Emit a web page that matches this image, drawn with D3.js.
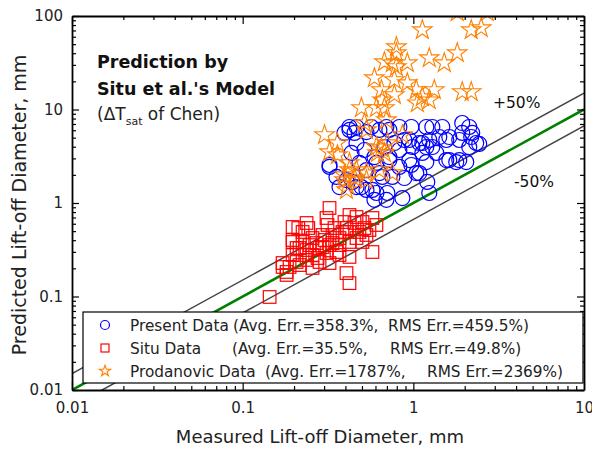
<!DOCTYPE html>
<html>
<head>
<meta charset="utf-8">
<script src="https://cdn.jsdelivr.net/npm/d3@7"></script>
<style>
  body { margin: 0; background: #fff; }
  text { font-family: "DejaVu Sans", Verdana, sans-serif; }
</style>
</head>
<body>
<svg id="chart" width="592" height="450"></svg>
<script>
//--data--//
var presentData = [
  [0.4225, 6.50], [0.4645, 6.50], [0.5682, 6.50], [0.6952, 6.50], [0.8284, 6.50], [0.9734, 6.50],
  [1.191, 6.50], [1.292, 6.50], [1.478, 6.50], [1.934, 7.17], [2.126, 6.50], [0.3950, 5.61],
  [0.4520, 5.61], [0.5312, 5.74], [0.7237, 6.04], [0.6327, 6.04], [0.4225, 6.04], [2.213, 5.61],
  [2.336, 4.38], [0.8860, 4.72], [0.9476, 4.72], [0.9867, 3.97], [1.084, 4.38], [1.129, 4.38],
  [1.191, 3.97], [1.240, 4.72], [1.292, 3.97], [1.419, 5.08], [1.560, 4.72], [1.624, 5.08],
  [1.858, 4.72], [1.934, 5.61], [2.184, 5.08], [2.126, 3.97], [2.432, 4.28], [0.3228, 2.55],
  [0.4341, 3.43], [0.4834, 2.68], [0.6078, 2.68], [0.7237, 3.10], [0.8284, 3.69], [0.9734, 2.55],
  [1.191, 2.74], [1.560, 2.88], [1.784, 2.74], [2.042, 2.74], [0.7237, 2.88], [0.9476, 2.88],
  [1.129, 3.43], [1.624, 2.88], [1.858, 2.88], [0.3545, 1.90], [0.4400, 1.68], [0.4966, 1.48],
  [0.5759, 1.38], [0.6588, 1.90], [0.7538, 1.90], [1.041, 2.09], [1.207, 1.68], [0.4058, 1.76],
  [0.5312, 2.25], [0.6327, 2.09], [1.084, 2.09], [0.3693, 1.48], [0.4645, 1.48], [0.3228, 2.43],
  [0.5916, 1.08], [0.7047, 1.28], [0.8625, 1.13], [1.240, 1.28], [0.5312, 1.38], [0.6078, 1.28],
  [0.6952, 1.08], [0.7745, 4.38], [0.6767, 3.97], [0.5171, 3.69], [0.8284, 2.43], [0.8860, 1.85],
  [1.363, 3.43], [0.4645, 4.38], [0.5916, 3.10]
];

var situData = [
  [0.1439, 0.0988], [0.3228, 0.884], [0.2368, 0.611], [0.2423, 0.540], [0.1961, 0.554], [0.3099, 0.691],
  [0.3141, 0.582], [0.4225, 0.744], [0.4645, 0.708], [0.4520, 0.611], [0.5034, 0.626], [0.5759, 0.691],
  [0.6078, 0.582], [0.1961, 0.383], [0.2244, 0.383], [0.2567, 0.422], [0.2937, 0.455], [0.3360, 0.455],
  [0.3844, 0.490], [0.4225, 0.490], [0.4834, 0.490], [0.5312, 0.455], [0.2070, 0.330], [0.2368, 0.314],
  [0.2821, 0.330], [0.3228, 0.355], [0.3693, 0.355], [0.4225, 0.383], [0.4645, 0.422], [0.5034, 0.383],
  [0.1961, 0.278], [0.2244, 0.278], [0.2567, 0.278], [0.3099, 0.292], [0.3545, 0.299], [0.4225, 0.265],
  [0.5759, 0.299], [0.1714, 0.228], [0.1809, 0.170], [0.2154, 0.217], [0.2567, 0.202], [0.3228, 0.228],
  [0.4058, 0.178], [0.4225, 0.139], [0.1883, 0.207], [0.2118, 0.540], [0.1961, 0.402], [0.1809, 0.183],
  [0.2244, 0.490], [0.2708, 0.373], [0.2937, 0.338], [0.3360, 0.373], [0.3693, 0.422], [0.4058, 0.540],
  [0.2154, 0.330], [0.2465, 0.355], [0.2745, 0.258], [0.3017, 0.402], [0.3451, 0.540], [0.3950, 0.626],
  [0.5171, 0.540], [0.5531, 0.514], [0.3693, 0.278], [0.2821, 0.234], [0.2368, 0.246], [0.2070, 0.234],
  [0.1714, 0.207]
];

var prodanovicData = [
  [1.808, 110], [2.709, 110], [2.184, 70.8], [2.498, 74.4], [1.129, 70.8], [0.7956, 46.6],
  [0.7956, 40.2], [0.6767, 32.2], [0.7538, 31.4], [0.9224, 31.4], [0.7956, 28.5], [1.240, 35.5],
  [1.518, 31.4], [1.808, 40.2], [0.5916, 21.7], [0.7745, 20.7], [0.9224, 19.2], [0.6500, 16.2],
  [0.7745, 14.3], [1.041, 16.2], [1.129, 13.6], [1.327, 16.2], [1.240, 12.6], [1.055, 11.7],
  [1.934, 15.4], [2.184, 15.4], [0.6588, 12.6], [0.4966, 10.4], [0.6078, 10.4], [0.6767, 10.4],
  [0.3017, 5.34], [0.3593, 4.38], [0.3228, 3.51], [0.5171, 7.17], [0.5312, 6.04], [0.6952, 7.72],
  [0.8625, 5.34], [0.6160, 3.43], [0.6767, 3.43], [0.6500, 3.87], [0.7047, 4.38], [0.4225, 2.68],
  [0.4645, 2.25], [0.3950, 1.99], [0.5312, 2.09], [0.4111, 1.56], [0.7538, 2.09], [0.6327, 2.25],
  [0.6078, 3.97], [0.4225, 2.25], [0.3950, 1.76], [0.4520, 1.85], [0.4058, 1.38], [0.5312, 1.76],
  [0.3593, 3.26]
];

var xMajor = [0.01, 0.1, 1, 10];
var yMajor = [0.01, 0.1, 1, 10, 100];
var bandFactors = [1.5, 1 / 1.5];   // +50% / -50% lines

var legendRows = [
  ["Present Data", "(Avg. Err.=358.3%,", "RMS Err.=459.5%)"],
  ["Situ Data", "(Avg. Err.=35.5%,", "RMS Err.=49.8%)"],
  ["Prodanovic Data", "(Avg. Err.=1787%,", "RMS Err.=2369%)"]
];
//--data--//

function drawChart() {
  var svg = d3.select("#chart");
  var pLeft = 72, pRight = 584, pTop = 16, pBottom = 390;

  var x = d3.scaleLog().domain([0.01, 10]).range([pLeft, pRight]);
  var y = d3.scaleLog().domain([0.01, 100]).range([pBottom, pTop]);

  var isPow = d => Math.abs(Math.log10(d) - Math.round(Math.log10(d))) < 1e-9;
  var xMinor = x.ticks().filter(d => !isPow(d));
  var yMinor = y.ticks().filter(d => !isPow(d));
  var fmt = d3.format("~g");

  svg.append("defs").append("clipPath").attr("id", "plot")
    .append("rect").attr("x", pLeft).attr("y", pTop)
    .attr("width", pRight - pLeft).attr("height", pBottom - pTop);

  var plot = svg.append("g").attr("clip-path", "url(#plot)");

  //--reference lines--//
  var line = k => d3.line()
    .x(d => x(d))
    .y(d => y(d * k));

  bandFactors.forEach(k => {
    plot.append("path")
      .datum(x.domain())
      .attr("d", line(k))
      .attr("fill", "none")
      .attr("stroke", "#444")
      .attr("stroke-width", 1.5);
  });
  plot.append("path")
    .datum(x.domain())
    .attr("d", line(1))
    .attr("fill", "none")
    .attr("stroke", "#008000")
    .attr("stroke-width", 2.6);

  //--points--//
  plot.append("g").selectAll("circle")
    .data(presentData).enter().append("circle")
    .attr("cx", d => x(d[0])).attr("cy", d => y(d[1]))
    .attr("r", 7.5)
    .attr("fill", "none").attr("stroke", "#0000ff").attr("stroke-width", 1.2);

  plot.append("g").selectAll("rect")
    .data(situData).enter().append("rect")
    .attr("x", d => x(d[0]) - 6.3).attr("y", d => y(d[1]) - 6.3)
    .attr("width", 12.6).attr("height", 12.6)
    .attr("fill", "none").attr("stroke", "#ff0000").attr("stroke-width", 1.2);

  var star = d3.symbol().type(d3.symbolStar).size(118);
  plot.append("g").selectAll("path")
    .data(prodanovicData).enter().append("path")
    .attr("d", star)
    .attr("transform", d => `translate(${x(d[0])},${y(d[1])})`)
    .attr("fill", "none").attr("stroke", "#ff8000").attr("stroke-width", 1.1);

  //--axes--//
  function styleAxis(g) {
    g.selectAll("path.domain").attr("stroke", "#000").attr("stroke-width", 1.8);
    g.selectAll(".tick line").attr("stroke", "#000").attr("stroke-width", 1.2);
    g.selectAll("text").attr("font-size", 15).attr("fill", "#222")
      .attr("font-family", "DejaVu Sans, Verdana, sans-serif");
  }

  svg.append("g").attr("transform", `translate(0,${pBottom})`)
    .call(d3.axisBottom(x).tickValues(xMinor).tickSize(-4).tickFormat(""))
    .call(g => g.select(".domain").remove())
    .call(styleAxis);
  svg.append("g").attr("transform", `translate(0,${pBottom})`)
    .call(d3.axisBottom(x).tickValues(xMajor).tickSize(-8).tickSizeOuter(0).tickPadding(12).tickFormat(fmt))
    .call(styleAxis);

  svg.append("g").attr("transform", `translate(0,${pTop})`)
    .call(d3.axisTop(x).tickValues(xMinor).tickSize(-4).tickFormat(""))
    .call(g => g.select(".domain").remove())
    .call(styleAxis);
  svg.append("g").attr("transform", `translate(0,${pTop})`)
    .call(d3.axisTop(x).tickValues(xMajor).tickSize(-8).tickSizeOuter(0).tickFormat(""))
    .call(styleAxis);

  svg.append("g").attr("transform", `translate(${pLeft},0)`)
    .call(d3.axisLeft(y).tickValues(yMinor).tickSize(-4).tickFormat(""))
    .call(g => g.select(".domain").remove())
    .call(styleAxis);
  svg.append("g").attr("transform", `translate(${pLeft},0)`)
    .call(d3.axisLeft(y).tickValues(yMajor).tickSize(-7).tickSizeOuter(0).tickPadding(9).tickFormat(fmt))
    .call(styleAxis);

  svg.append("g").attr("transform", `translate(${pRight},0)`)
    .call(d3.axisRight(y).tickValues(yMinor).tickSize(-4).tickFormat(""))
    .call(g => g.select(".domain").remove())
    .call(styleAxis);
  svg.append("g").attr("transform", `translate(${pRight},0)`)
    .call(d3.axisRight(y).tickValues(yMajor).tickSize(-7).tickSizeOuter(0).tickFormat(""))
    .call(styleAxis);

  //--axis titles--//
  svg.append("text")
    .attr("x", (pLeft + pRight) / 2 - 8).attr("y", 443)
    .attr("text-anchor", "middle").attr("font-size", 18).attr("fill", "#222")
    .text("Measured Lift-off Diameter, mm");

  svg.append("text")
    .attr("transform", "translate(26,205) rotate(-90)")
    .attr("text-anchor", "middle").attr("font-size", 19).attr("fill", "#222")
    .text("Predicted Lift-off Diameter, mm");

  //--annotations--//
  svg.append("text").attr("x", 97).attr("y", 68)
    .attr("font-size", 17.5).attr("font-weight", "bold").attr("fill", "#111")
    .text("Prediction by");
  svg.append("text").attr("x", 97).attr("y", 95)
    .attr("font-size", 17.5).attr("font-weight", "bold").attr("fill", "#111")
    .text("Situ et al.'s Model");
  var sub = svg.append("text").attr("x", 97).attr("y", 120)
    .attr("font-size", 17).attr("fill", "#222");
  sub.append("tspan").text("(\u0394T");
  sub.append("tspan").attr("font-size", 11).attr("dy", 5).text("sat");
  sub.append("tspan").attr("dy", -5).text(" of Chen)");

  svg.append("text").attr("x", 493).attr("y", 108)
    .attr("font-size", 15.5).attr("fill", "#111").text("+50%");
  svg.append("text").attr("x", 514).attr("y", 187)
    .attr("font-size", 15.5).attr("fill", "#111").text("-50%");

  //--legend--//
  var legend = svg.append("g");
  legend.append("rect")
    .attr("x", 83).attr("y", 312).attr("width", 500).attr("height", 71)
    .attr("fill", "#fff").attr("stroke", "#000").attr("stroke-width", 1.2);

  var segX = [[130, 233, 388], [130, 232, 390], [130, 265, 427]];
  var rowY = d3.scalePoint().domain(d3.range(legendRows.length)).range([325, 371]);

  legendRows.forEach((row, i) => {
    row.forEach((s, j) => {
      legend.append("text")
        .attr("x", segX[i][j]).attr("y", rowY(i)).attr("dy", "0.36em")
        .attr("font-size", 15.3).attr("fill", "#222").text(s);
    });
  });

  legend.append("circle").attr("cx", 105).attr("cy", rowY(0)).attr("r", 4.5)
    .attr("fill", "none").attr("stroke", "#0000ff").attr("stroke-width", 1.2);
  legend.append("rect").attr("x", 101).attr("y", rowY(1) - 4).attr("width", 8).attr("height", 8)
    .attr("fill", "none").attr("stroke", "#ff0000").attr("stroke-width", 1.2);
  legend.append("path").attr("d", d3.symbol().type(d3.symbolStar).size(38))
    .attr("transform", `translate(105,${rowY(2)})`)
    .attr("fill", "none").attr("stroke", "#ff8000").attr("stroke-width", 1.1);
}

drawChart();
</script>
</body>
</html>
